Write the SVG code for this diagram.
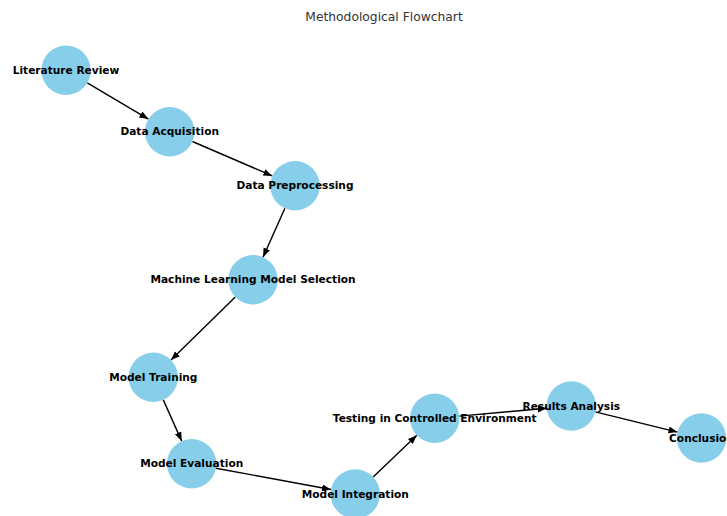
<svg xmlns="http://www.w3.org/2000/svg" width="727" height="516" viewBox="0 0 727 516">
<style>
.n{fill:#87CEEB}
.l{font-family:"DejaVu Sans",sans-serif;font-weight:bold;font-size:10.6px;fill:#000;text-anchor:middle}
.e{stroke:#000;stroke-width:1.4;fill:none;marker-end:url(#ah)}
.t{font-family:"DejaVu Sans",sans-serif;font-size:12.3px;fill:#333;text-anchor:middle}
</style>
<defs>
<marker id="ah" markerUnits="userSpaceOnUse" markerWidth="10" markerHeight="8" refX="9" refY="3.5" orient="auto">
<path d="M0,0 L9,3.5 L0,7 z" fill="#000"/>
</marker>
</defs>
<rect width="727" height="516" fill="#fff"/>
<text class="t" x="384" y="21">Methodological Flowchart</text>
<g id="edges">
<line class="e" x1="87.3" y1="82.9" x2="148.4" y2="119.1"/>
<line class="e" x1="192.4" y1="141.5" x2="272.3" y2="175.9"/>
<line class="e" x1="284.9" y1="208.2" x2="263.1" y2="257.1"/>
<line class="e" x1="235.3" y1="297.0" x2="171.0" y2="360.0"/>
<line class="e" x1="163.3" y1="399.9" x2="181.7" y2="441.1"/>
<line class="e" x1="216.0" y1="468.2" x2="331.0" y2="489.5"/>
<line class="e" x1="373.2" y1="477.0" x2="416.8" y2="435.3"/>
<line class="e" x1="459.3" y1="416.1" x2="546.7" y2="408.2"/>
<line class="e" x1="595.3" y1="411.9" x2="677.5" y2="432.1"/>
</g>
<g id="n1"><circle class="n" cx="66" cy="70.3" r="24.7"/><text class="l" x="66" y="74">Literature Review</text></g>
<g id="n2"><circle class="n" cx="169.7" cy="131.7" r="24.7"/><text class="l" x="169.7" y="135.4">Data Acquisition</text></g>
<g id="n3"><circle class="n" cx="295" cy="185.7" r="24.7"/><text class="l" x="295" y="189.4">Data Preprocessing</text></g>
<g id="n4"><circle class="n" cx="253" cy="279.7" r="24.7"/><text class="l" x="253" y="283.4">Machine Learning Model Selection</text></g>
<g id="n5"><circle class="n" cx="153.3" cy="377.3" r="24.7"/><text class="l" x="153.3" y="381">Model Training</text></g>
<g id="n6"><circle class="n" cx="191.7" cy="463.7" r="24.7"/><text class="l" x="191.7" y="467.4">Model Evaluation</text></g>
<g id="n7"><circle class="n" cx="355.3" cy="494" r="24.7"/><text class="l" x="355.3" y="497.7">Model Integration</text></g>
<g id="n8"><circle class="n" cx="434.7" cy="418.3" r="24.7"/><text class="l" x="434.7" y="422">Testing in Controlled Environment</text></g>
<g id="n9"><circle class="n" cx="571.3" cy="406" r="24.7"/><text class="l" x="571.3" y="409.7">Results Analysis</text></g>
<g id="n10"><circle class="n" cx="701.5" cy="438" r="24.7"/><text class="l" x="701.5" y="441.7">Conclusion</text></g>
</svg>
